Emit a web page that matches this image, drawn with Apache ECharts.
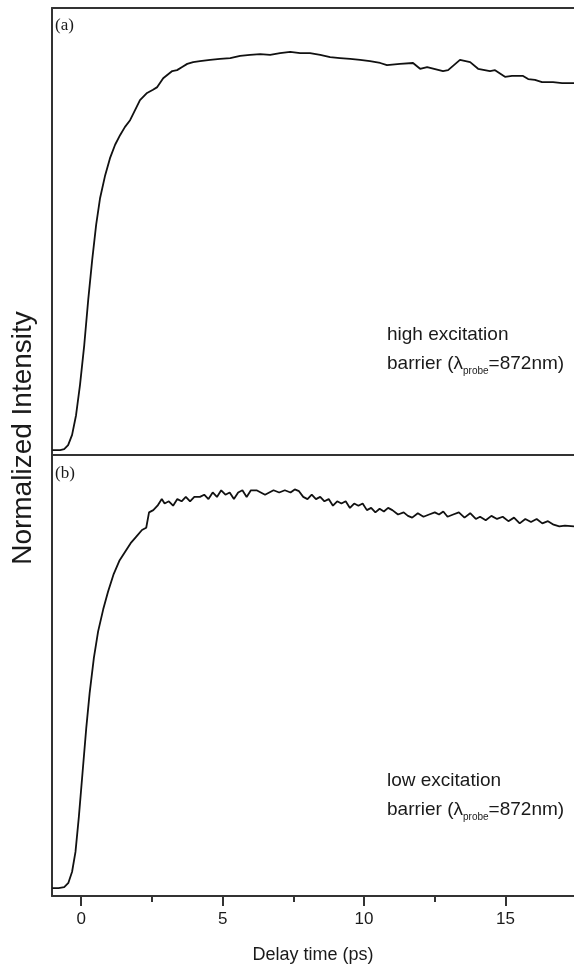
<!DOCTYPE html>
<html>
<head>
<meta charset="utf-8">
<title>Normalized intensity vs delay time</title>
<script src="https://cdn.jsdelivr.net/npm/echarts@6/dist/echarts.min.js"></script>
<style>
  html, body { margin: 0; padding: 0; background: #fff; }
  #chart { width: 574px; height: 968px; }
</style>
</head>
<body>
<div id="chart"></div>
<script>
// panel (a): high excitation
var delayA = [-1.02, -0.74, -0.60, -0.46, -0.32, -0.18, -0.04, 0.11, 0.25, 0.39, 0.53, 0.67, 0.85,
  1.02, 1.20, 1.38, 1.55, 1.73, 1.91, 2.08, 2.33, 2.54, 2.69, 2.90, 3.22, 3.39, 3.57, 3.75, 3.96,
  4.20, 4.56, 4.91, 5.27, 5.62, 5.97, 6.33, 6.68, 7.03, 7.39, 7.74, 8.09, 8.45, 8.80, 9.15, 9.51,
  9.86, 10.21, 10.57, 10.81, 11.27, 11.73, 11.98, 12.23, 12.79, 12.97, 13.39, 13.75, 14.03, 14.45,
  14.63, 14.98, 15.23, 15.62, 15.80, 16.04, 16.29, 16.68, 17.00, 17.42];
var intensityA = [0.011, 0.011, 0.013, 0.022, 0.045, 0.089, 0.157, 0.246, 0.347, 0.436, 0.515, 0.575, 0.626,
  0.664, 0.694, 0.716, 0.734, 0.749, 0.772, 0.794, 0.810, 0.817, 0.823, 0.843, 0.859, 0.861, 0.868, 0.875, 0.879,
  0.881, 0.884, 0.886, 0.888, 0.893, 0.895, 0.897, 0.895, 0.899, 0.902, 0.899, 0.899, 0.895, 0.890, 0.888, 0.886,
  0.884, 0.881, 0.877, 0.872, 0.875, 0.877, 0.864, 0.868, 0.859, 0.861, 0.884, 0.879, 0.864, 0.859,
  0.861, 0.846, 0.848, 0.848, 0.841, 0.839, 0.834, 0.834, 0.832, 0.832];

// panel (b): low excitation
var delayB = [-1.02, -0.80, -0.60, -0.45, -0.32, -0.20, -0.08, 0.05, 0.18, 0.30, 0.45, 0.60, 0.78, 0.95,
  1.15, 1.35, 1.55, 1.75, 1.95, 2.15, 2.30, 2.40, 2.55, 2.70, 2.85, 2.95, 3.10, 3.25, 3.40, 3.55, 3.70,
  3.85, 4.00, 4.20, 4.35, 4.50, 4.65, 4.80, 4.95, 5.10, 5.25, 5.40, 5.55, 5.70, 5.85, 6.00, 6.20, 6.35,
  6.50, 6.65, 6.80, 7.00, 7.20, 7.40, 7.55, 7.70, 7.85, 8.00, 8.15, 8.30, 8.45, 8.60, 8.75, 8.90, 9.05,
  9.20, 9.35, 9.50, 9.65, 9.80, 9.95, 10.10, 10.25, 10.40, 10.55, 10.70, 10.85, 11.00, 11.20, 11.40,
  11.55, 11.70, 11.90, 12.10, 12.30, 12.50, 12.65, 12.80, 12.95, 13.15, 13.35, 13.55, 13.75, 13.95,
  14.10, 14.30, 14.50, 14.70, 14.90, 15.10, 15.30, 15.50, 15.70, 15.90, 16.10, 16.30, 16.50, 16.70,
  16.90, 17.10, 17.42];
var intensityB = [0.018, 0.018, 0.020, 0.030, 0.055, 0.10, 0.18, 0.28, 0.38, 0.46, 0.54, 0.60, 0.65, 0.69,
  0.73, 0.76, 0.78, 0.80, 0.815, 0.83, 0.835, 0.87, 0.875, 0.885, 0.90, 0.89, 0.895, 0.885, 0.90, 0.895, 0.905,
  0.895, 0.905, 0.905, 0.91, 0.90, 0.915, 0.905, 0.92, 0.91, 0.915, 0.90, 0.915, 0.92, 0.905, 0.92, 0.92, 0.915,
  0.91, 0.915, 0.92, 0.915, 0.92, 0.915, 0.922, 0.918, 0.905, 0.90, 0.91, 0.90, 0.905, 0.895, 0.90, 0.885, 0.895,
  0.89, 0.895, 0.88, 0.89, 0.885, 0.89, 0.875, 0.88, 0.87, 0.878, 0.872, 0.88, 0.875, 0.865, 0.87,
  0.862, 0.858, 0.868, 0.86, 0.865, 0.87, 0.865, 0.872, 0.86, 0.865, 0.87, 0.858, 0.868, 0.855,
  0.86, 0.852, 0.862, 0.855, 0.86, 0.85, 0.858, 0.845, 0.855, 0.848, 0.855, 0.845, 0.85, 0.842,
  0.838, 0.84, 0.838];

var majorTicks = [0, 5, 10, 15];
var minorTicks = [2.5, 7.5, 12.5];
var xMin = -1.03, xMax = 17.42;

function pairs(xs, ys) {
  return xs.map(function (x, i) { return [x, ys[i]]; });
}

var axisColor = '#333';
var sans = 'Liberation Sans, Arial, sans-serif';
var serif = 'Liberation Serif, Times New Roman, serif';

var lineAxis = { show: true, onZero: false, lineStyle: { color: axisColor, width: 2 } };
var off = { show: false };

var chart = echarts.init(document.getElementById('chart'), null, { renderer: 'canvas' });

var subLabel = {
  text: '{n|barrier (λ}{s|probe}{n|=872nm)}',
  rich: {
    n: { fontSize: 19, fontFamily: sans, fill: '#1a1a1a', lineHeight: 26, verticalAlign: 'middle' },
    s: { fontSize: 10, fontFamily: sans, fill: '#1a1a1a', lineHeight: 26, verticalAlign: 'bottom' }
  }
};

chart.setOption({
  animation: false,
  backgroundColor: '#fff',
  grid: [
    { left: 52, top: 8, right: 0, height: 447 },
    { left: 52, top: 455, right: 0, bottom: 72 }
  ],
  xAxis: [
    // panel (a) bottom edge
    { type: 'value', gridIndex: 0, min: xMin, max: xMax, position: 'bottom',
      axisLine: lineAxis, axisTick: off, axisLabel: off, splitLine: off },
    // panel (a) top edge
    { type: 'value', gridIndex: 0, min: xMin, max: xMax, position: 'top',
      axisLine: lineAxis, axisTick: off, axisLabel: off, splitLine: off },
    // panel (b) bottom axis with labels
    { type: 'value', gridIndex: 1, min: xMin, max: xMax, position: 'bottom',
      axisLine: lineAxis,
      axisTick: { show: true, customValues: majorTicks, length: 10, lineStyle: { color: axisColor, width: 2 } },
      axisLabel: { show: true, customValues: majorTicks, margin: 15, fontSize: 17, color: '#1a1a1a', fontFamily: sans },
      splitLine: off,
      name: 'Delay time (ps)', nameLocation: 'middle', nameGap: 50,
      nameTextStyle: { fontSize: 18, color: '#1a1a1a', fontFamily: sans } },
    // minor ticks
    { type: 'value', gridIndex: 1, min: xMin, max: xMax, position: 'bottom', offset: 0,
      axisLine: off,
      axisTick: { show: true, customValues: minorTicks, length: 6, lineStyle: { color: axisColor, width: 2 } },
      axisLabel: off, splitLine: off }
  ],
  yAxis: [
    { type: 'value', gridIndex: 0, min: 0, max: 1, position: 'left',
      axisLine: lineAxis, axisTick: off, axisLabel: off, splitLine: off },
    { type: 'value', gridIndex: 1, min: 0, max: 1, position: 'left',
      axisLine: lineAxis, axisTick: off, axisLabel: off, splitLine: off }
  ],
  series: [
    { type: 'line', xAxisIndex: 0, yAxisIndex: 0, data: pairs(delayA, intensityA),
      showSymbol: false, lineStyle: { color: '#111', width: 1.8 } },
    { type: 'line', xAxisIndex: 2, yAxisIndex: 1, data: pairs(delayB, intensityB),
      showSymbol: false, lineStyle: { color: '#111', width: 1.8 } }
  ],
  graphic: [
    { type: 'text', x: 23, y: 438, rotation: Math.PI / 2,
      style: { text: 'Normalized Intensity', font: '28px ' + sans, fill: '#1a1a1a',
        textAlign: 'center', textVerticalAlign: 'middle' } },
    { type: 'text', left: 55, top: 17, style: { text: '(a)', font: '17px ' + serif, fill: '#1a1a1a' } },
    { type: 'text', left: 55, top: 465, style: { text: '(b)', font: '17px ' + serif, fill: '#1a1a1a' } },
    { type: 'text', left: 387, top: 325, style: { text: 'high excitation', font: '19px ' + sans, fill: '#1a1a1a' } },
    { type: 'text', left: 387, top: 354, style: subLabel },
    { type: 'text', left: 387, top: 771, style: { text: 'low excitation', font: '19px ' + sans, fill: '#1a1a1a' } },
    { type: 'text', left: 387, top: 800, style: subLabel }
  ]
});
</script>
</body>
</html>
